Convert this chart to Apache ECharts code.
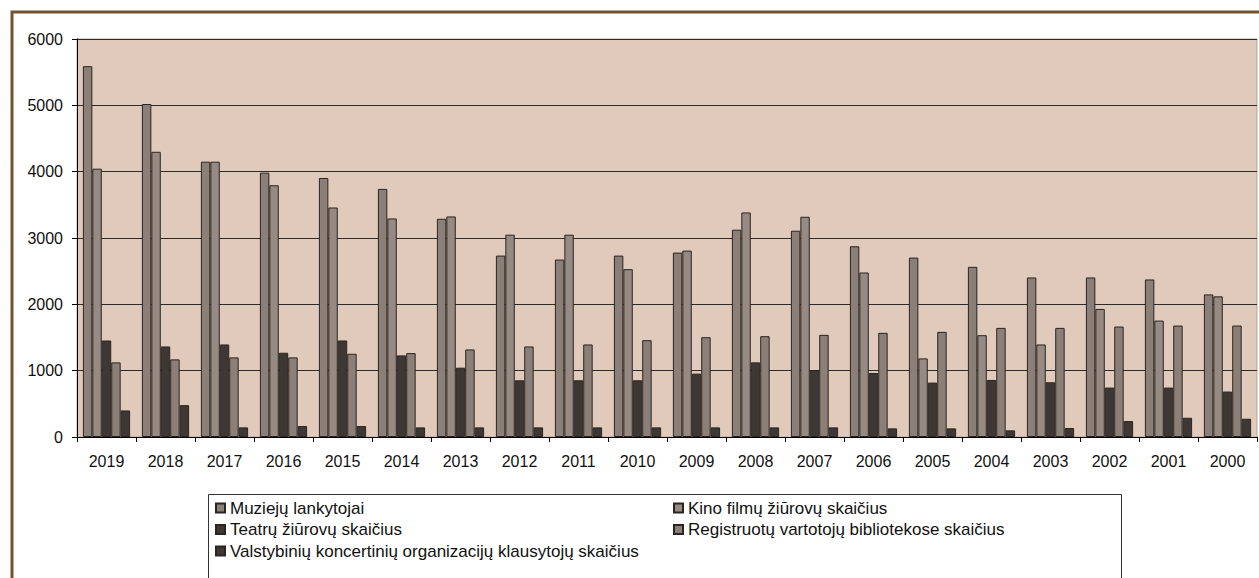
<!DOCTYPE html>
<html>
<head>
<meta charset="utf-8">
<script src="https://cdn.jsdelivr.net/npm/echarts@6/dist/echarts.min.js"></script>
<style>
html,body{margin:0;padding:0;background:#fff;}
#chart{width:1259px;height:578px;}
</style>
</head>
<body>
<div id="chart"></div>
<script>
var years = ['2019','2018','2017','2016','2015','2014','2013','2012','2011','2010','2009','2008','2007','2006','2005','2004','2003','2002','2001','2000'];
var muziejai = [5590,5020,4150,3985,3905,3740,3290,2735,2675,2735,2780,3125,3110,2875,2705,2565,2405,2405,2375,2150];
var kino = [4045,4300,4150,3795,3460,3295,3325,3050,3050,2530,2810,3385,3320,2480,1185,1535,1395,1930,1755,2120];
var teatrai = [1455,1365,1395,1270,1455,1230,1045,855,855,855,955,1125,1000,965,820,860,825,745,745,685];
var biblioteka = [1125,1170,1200,1200,1255,1265,1320,1365,1395,1460,1505,1520,1540,1570,1585,1645,1645,1665,1680,1680];
var koncertai = [400,480,145,165,165,145,145,145,145,145,145,145,145,130,130,100,135,240,290,275];
var yTicks = [0,1000,2000,3000,4000,5000,6000];

var names = ['Muziejų lankytojai','Kino filmų žiūrovų skaičius','Teatrų žiūrovų skaičius','Registruotų vartotojų bibliotekose skaičius','Valstybinių koncertinių organizacijų klausytojų skaičius'];
var colors = ['#8b7f77','#968a82','#3f3733','#8b7f77','#3f3733'];
var datas = [muziejai,kino,teatrai,biblioteka,koncertai];

var font = '"Liberation Sans", Arial, sans-serif';
var chart = echarts.init(document.getElementById('chart'), null, {renderer:'svg'});

var series = names.map(function(n,i){
  return {
    name:n, type:'bar', data:datas[i],
    barGap:'0%', barCategoryGap:'20%',
    itemStyle:{color:colors[i], borderColor:'#2a2522', borderWidth:1},
    emphasis:{disabled:true}
  };
});

var legendBase = {
  orient:'vertical', icon:'rect', itemWidth:9, itemHeight:9, itemGap:4.5,
  textStyle:{fontFamily:font, fontSize:17, color:'#111', lineHeight:17},
  selectedMode:false, padding:0
};

chart.setOption({
  animation:false,
  backgroundColor:'#fff',
  graphic:[
    {type:'rect', silent:true, z:-10, shape:{x:12, y:12, width:1400, height:800}, style:{fill:'none', stroke:'#72522f', lineWidth:3}},
    {type:'rect', silent:true, z:-10, shape:{x:208.5, y:494.5, width:913, height:120}, style:{fill:'#fff', stroke:'#333', lineWidth:1}}
  ],
  grid:{left:77, right:2, top:39, bottom:141, show:true, backgroundColor:'#dfcabb', borderColor:'#b3a59c', borderWidth:1},
  legend:[
    Object.assign({}, legendBase, {left:215, top:499.5, data:[names[0],names[2],names[4]]}),
    Object.assign({}, legendBase, {left:673, top:499.5, data:[names[1],names[3]]})
  ],
  xAxis:{
    type:'category', data:years,
    axisLine:{lineStyle:{color:'#000', width:1}},
    axisTick:{show:true, length:5, lineStyle:{color:'#000'}},
    axisLabel:{fontFamily:font, fontSize:16, color:'#111', margin:16, interval:0}
  },
  yAxis:{
    type:'value', min:0, max:6000, interval:1000,
    axisLine:{show:true, lineStyle:{color:'#000', width:1}},
    axisTick:{show:true, length:5, lineStyle:{color:'#000'}},
    axisLabel:{fontFamily:font, fontSize:16, color:'#111', margin:14,
      formatter:function(v){ return yTicks.indexOf(v)>=0 ? String(v) : ''; }},
    splitLine:{show:true, lineStyle:{color:'#2e2a28', width:1}}
  },
  series:series
});
</script>
</body>
</html>
